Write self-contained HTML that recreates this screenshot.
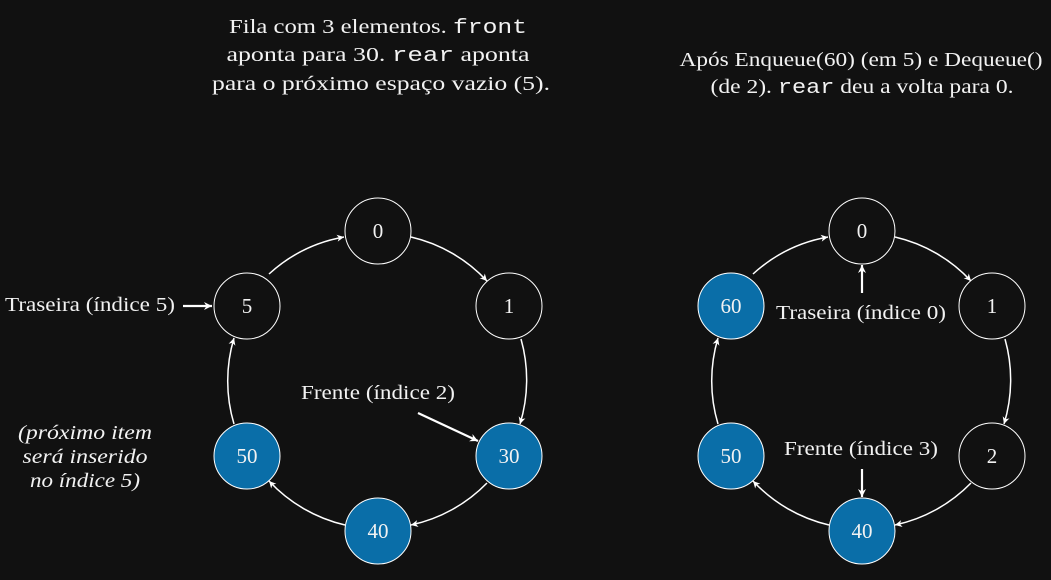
<!DOCTYPE html>
<html><head><meta charset="utf-8"><style>
html,body{margin:0;padding:0;background:#111111;}
svg{display:block;}
text{font-family:"Liberation Serif",serif;fill:#f2f2f2;}
.m{font-family:"Liberation Mono",monospace;}
</style></head><body>
<svg width="1051" height="580" viewBox="0 0 1051 580" xmlns="http://www.w3.org/2000/svg">
<defs>
<marker id="a" markerWidth="10" markerHeight="10" refX="8" refY="5" orient="auto" markerUnits="userSpaceOnUse">
<path d="M1,1.5 L8,5 L1,8.5 L3,5 Z" fill="#fff"/>
</marker>
<marker id="b" markerWidth="12" markerHeight="12" refX="9" refY="6" orient="auto" markerUnits="userSpaceOnUse">
<path d="M1,2 L9,6 L1,10 L3.5,6 Z" fill="#fff"/>
</marker>
<g id="arcs" fill="none" stroke="#fff" stroke-width="1.5" marker-end="url(#a)">
<path d="M269,274 A150,150 0 0 1 344,237"/>
<path d="M411,237 A150,150 0 0 1 487,281"/>
<path d="M521,339 A150,150 0 0 1 520,424"/>
<path d="M487,483 A150,150 0 0 1 411,525"/>
<path d="M345,525 A150,150 0 0 1 269,481"/>
<path d="M234,424 A150,150 0 0 1 234,338"/>
</g>
</defs>
<use href="#arcs"/>
<use href="#arcs" transform="translate(484,0)"/>
<g stroke="#fff" stroke-width="1" text-anchor="middle">
<circle cx="378" cy="231" r="33" fill="#111"/>
<circle cx="509" cy="306" r="33" fill="#111"/>
<circle cx="509" cy="456" r="33" fill="#0a6ea8"/>
<circle cx="378" cy="531" r="33" fill="#0a6ea8"/>
<circle cx="247" cy="456" r="33" fill="#0a6ea8"/>
<circle cx="247" cy="306" r="33" fill="#111"/>
<circle cx="862" cy="231" r="33" fill="#111"/>
<circle cx="992" cy="306" r="33" fill="#111"/>
<circle cx="992" cy="456" r="33" fill="#111"/>
<circle cx="862" cy="531" r="33" fill="#0a6ea8"/>
<circle cx="731" cy="456" r="33" fill="#0a6ea8"/>
<circle cx="731" cy="306" r="33" fill="#0a6ea8"/>
</g>
<g font-size="21" text-anchor="middle">
<text x="378" y="238">0</text>
<text x="509" y="313">1</text>
<text x="509" y="463">30</text>
<text x="378" y="538">40</text>
<text x="247" y="463">50</text>
<text x="247" y="313">5</text>
<text x="862" y="238">0</text>
<text x="992" y="313">1</text>
<text x="992" y="463">2</text>
<text x="862" y="538">40</text>
<text x="731" y="463">50</text>
<text x="731" y="313">60</text>
</g>
<g stroke="#fff" stroke-width="2.2" fill="none" marker-end="url(#b)">
<path d="M183,306 L212,306"/>
<path d="M418,413 L478,441"/>
<path d="M862,293 L862,265"/>
<path d="M862,469 L862,497"/>
</g>
<g font-size="20" text-anchor="middle" lengthAdjust="spacingAndGlyphs">
<text x="90" y="311" textLength="170" lengthAdjust="spacingAndGlyphs">Traseira (índice 5)</text>
<text x="378" y="399" textLength="154" lengthAdjust="spacingAndGlyphs">Frente (índice 2)</text>
<text x="861" y="319" textLength="170" lengthAdjust="spacingAndGlyphs">Traseira (índice 0)</text>
<text x="861" y="455" textLength="154" lengthAdjust="spacingAndGlyphs">Frente (índice 3)</text>
<text x="85" y="439" font-style="italic" textLength="134" lengthAdjust="spacingAndGlyphs">(próximo item</text>
<text x="85" y="463" font-style="italic" textLength="125" lengthAdjust="spacingAndGlyphs">será inserido</text>
<text x="85" y="487" font-style="italic" textLength="110" lengthAdjust="spacingAndGlyphs">no índice 5)</text>
<text x="378" y="33" textLength="298" lengthAdjust="spacingAndGlyphs">Fila com 3 elementos. <tspan class="m">front</tspan></text>
<text x="378" y="61" textLength="303" lengthAdjust="spacingAndGlyphs">aponta para 30. <tspan class="m">rear</tspan> aponta</text>
<text x="381" y="90" textLength="338" lengthAdjust="spacingAndGlyphs">para o próximo espaço vazio (5).</text>
<text x="861" y="66" textLength="363" lengthAdjust="spacingAndGlyphs">Após Enqueue(60) (em 5) e Dequeue()</text>
<text x="862" y="93" textLength="303" lengthAdjust="spacingAndGlyphs">(de 2). <tspan class="m">rear</tspan> deu a volta para 0.</text>
</g>
</svg>
</body></html>
